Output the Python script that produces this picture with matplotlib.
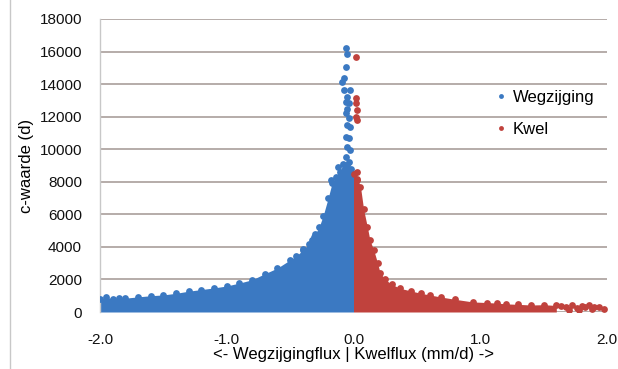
import numpy as np
import matplotlib
matplotlib.use("Agg")
import matplotlib.pyplot as plt
from matplotlib.lines import Line2D

plt.rcParams['font.family'] = ['Liberation Sans', 'DejaVu Sans']

# upper edge of the dense blue cloud (Wegzijging), flux in mm/d, c in d
blue_env_x = [-2.0, -1.95, -1.9, -1.85, -1.8, -1.7, -1.6, -1.5, -1.4, -1.3, -1.2, -1.1, -1.0,
              -0.9, -0.8, -0.7, -0.6, -0.5, -0.45, -0.4, -0.35, -0.3, -0.27, -0.24, -0.2,
              -0.17, -0.14, -0.11, -0.08, -0.05, -0.02, 0.0]
blue_env_c = [800, 900, 820, 880, 850, 930, 1000, 1050, 1150, 1280, 1380, 1480, 1600,
              1780, 1980, 2350, 2700, 3200, 3450, 3800, 4200, 4800, 5250, 5900, 7000,
              7900, 8300, 8600, 9100, 9000, 8800, 8500]

# scattered blue points above the cloud
blue_out_x = [-0.063, -0.05, -0.063, -0.076, -0.09, -0.076, -0.024, -0.05, -0.063, -0.037,
              -0.05, -0.063, -0.037, -0.05, -0.024, -0.063, -0.037, -0.05, -0.024, -0.063,
              -0.037, -0.33, -0.31, -0.18, -0.12, -0.4]
blue_out_c = [16210, 15880, 15060, 14350, 14140, 13630, 13630, 13220, 12910, 12810,
              12500, 12200, 11890, 11480, 11380, 10760, 10660, 10150, 9950, 9540,
              9230, 4420, 4600, 8100, 8900, 3900]

# upper edge of the dense red cloud (Kwel)
red_env_x = [0.0, 0.03, 0.055, 0.08, 0.11, 0.13, 0.16, 0.19, 0.21, 0.25, 0.3, 0.37, 0.45,
             0.53, 0.6, 0.69, 0.8, 0.94, 1.05, 1.13, 1.2, 1.3, 1.4, 1.5, 1.6]
red_env_c = [8500, 8200, 7700, 6300, 5200, 4400, 3800, 3000, 2400, 2000, 1700, 1450, 1300,
             1150, 1050, 920, 780, 620, 580, 550, 500, 470, 430, 450, 400]

# scattered red points
red_out_x = [0.02, 0.02, 0.02, 0.025, 0.02, 0.025, 0.03, 0.03,
             1.64, 1.68, 1.72, 1.76, 1.8, 1.83, 1.86, 1.9, 1.94, 1.98, 1.7, 1.78, 1.88]
red_out_c = [15680, 13120, 12810, 12400, 11990, 11790, 8610, 8100,
             380, 300, 420, 260, 380, 330, 400, 280, 330, 200, 150, 120, 160]

blue = '#3b79c2'
red = '#c0423d'

fig = plt.figure(figsize=(6.18, 3.69), dpi=100)
ax = fig.add_axes([100/618, 1-312/369, 507/618, 293/369])

ax.fill_between(blue_env_x, 0, blue_env_c, color=blue, lw=0, zorder=2)
ax.fill_between(red_env_x, 0, red_env_c, color=red, lw=0, zorder=2)
ax.scatter(blue_env_x, blue_env_c, s=24, color=blue, lw=0, zorder=3)
ax.scatter(red_env_x, red_env_c, s=24, color=red, lw=0, zorder=3)
ax.scatter(blue_out_x, blue_out_c, s=24, color=blue, lw=0, zorder=3)
ax.scatter(red_out_x, red_out_c, s=24, color=red, lw=0, zorder=3)

ax.set_xlim(-2.0, 2.0)
ax.set_ylim(0, 18000)
ax.set_xticks([-2.0, -1.0, 0.0, 1.0, 2.0])
ax.set_xticklabels(['-2.0', '-1.0', '0.0', '1.0', '2.0'])
ax.set_yticks(range(0, 18001, 2000))
ax.tick_params(axis='both', length=0, labelsize=11, colors='#111111')
ax.tick_params(axis='y', pad=13)
ax.tick_params(axis='x', pad=15)

ax.grid(axis='y', color='#b0a6a2', lw=1.3, zorder=1)
ax.set_axisbelow(True)
for s in ['top', 'right', 'bottom']:
    ax.spines[s].set_visible(False)
ax.spines['left'].set_color('#c8c8c8')
ax.spines['left'].set_linewidth(1.0)

ax.set_xlabel('<- Wegzijgingflux | Kwelflux (mm/d) ->', fontsize=12, labelpad=0)
ax.set_ylabel('c-waarde (d)', fontsize=12, labelpad=4)

handles = [Line2D([], [], ls='none', marker='o', ms=3.5, color=blue, mec='none'),
           Line2D([], [], ls='none', marker='o', ms=3.5, color=red, mec='none')]
ax.legend(handles, ['Wegzijging', 'Kwel'], frameon=False, fontsize=12,
          loc='upper left', bbox_to_anchor=(488/618, 1-82/369), bbox_transform=fig.transFigure,
          handlelength=0.6, handletextpad=0.4, labelspacing=1.0, borderpad=0)

# outer chart frame on the left
fig.add_artist(Line2D([10/618, 10/618], [0, 1], transform=fig.transFigure, color='#c8c8c8', lw=1))

fig.savefig('out.png', dpi=100)
